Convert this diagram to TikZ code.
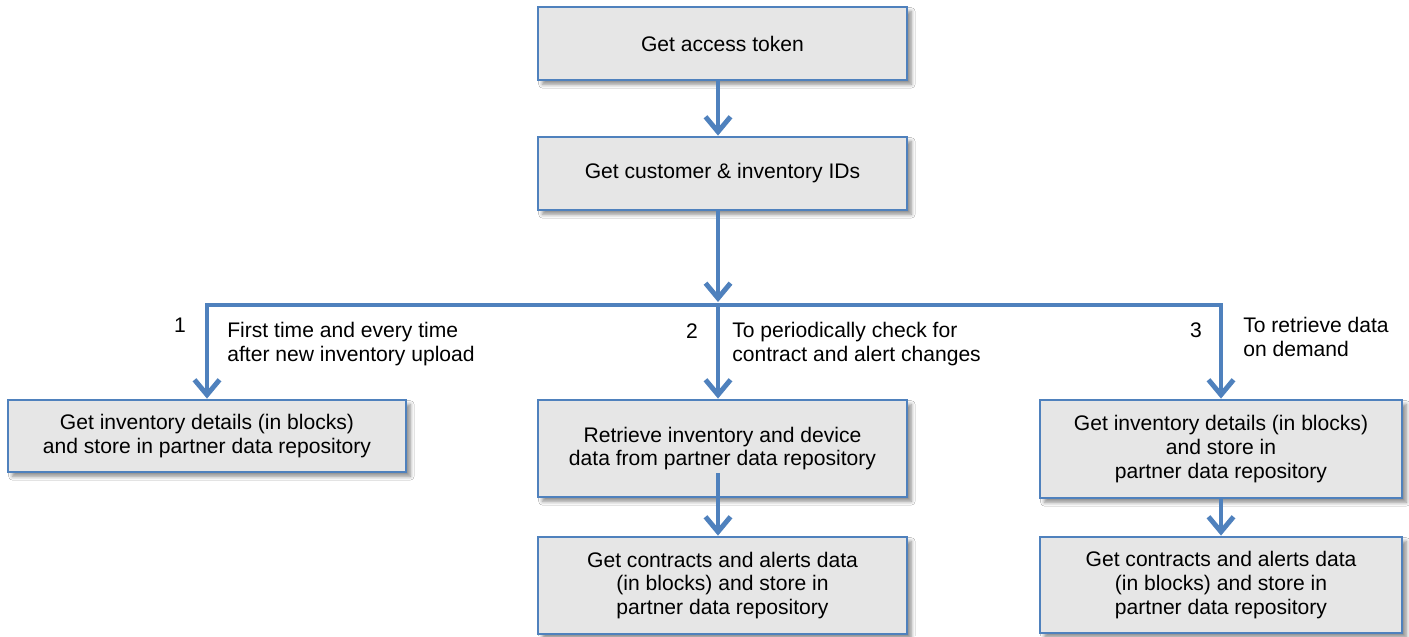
\documentclass[tikz,border=0pt]{standalone}
\usepackage{fontspec}
\setmainfont{Liberation Sans}
\usetikzlibrary{arrows.meta,shadows.blur}
\definecolor{flowblue}{RGB}{79,129,189}
\definecolor{boxfill}{RGB}{230,230,230}
\begin{document}
\begin{tikzpicture}[x=0.02cm,y=-0.02cm,
  txt/.style={font=\fontsize{12}{13.6}\selectfont},
  box/.style={txt, draw=flowblue, line width=1.6pt, fill=boxfill, align=center, inner sep=0pt,
    blur shadow={shadow xshift=2.5pt, shadow yshift=-2.5pt, shadow blur steps=6, shadow opacity=45}},
  wire/.style={draw=flowblue, line width=2.8pt},
  flow/.style={wire, -{Straight Barb[length=0.3cm,width=0.5cm]}},
  lbl/.style={txt, align=left, inner sep=0pt}]
\useasboundingbox[fill=white] (0,0) rectangle (1409,636);

% process steps
\node[box, minimum width=7.38cm, minimum height=1.46cm] (tok) at (722.5,43.5) {Get access token};
\node[box, minimum width=7.38cm, minimum height=1.46cm] (ids) at (722.5,173.5) {Get customer \& inventory IDs};
\node[box, minimum width=7.96cm, minimum height=1.44cm] (inv1) at (207,436)
  {Get inventory details (in blocks)\\and store in partner data repository};
\node[box, minimum width=7.38cm, minimum height=1.94cm] (chk) at (722.5,448.5)
  {Retrieve inventory and device\\data from partner data repository};
\node[box, minimum width=7.38cm, minimum height=1.94cm] (ctr2) at (722.5,585.5)
  {Get contracts and alerts data\\(in blocks) and store in\\partner data repository};
\node[box, minimum width=7.24cm, minimum height=1.96cm] (inv3) at (1221,449)
  {Get inventory details (in blocks)\\and store in\\partner data repository};
\node[box, minimum width=7.24cm, minimum height=1.92cm] (ctr3) at (1221,585)
  {Get contracts and alerts data\\(in blocks) and store in\\partner data repository};

% routing points
\coordinate (spine) at (718,0);
\coordinate (hub) at (718,305);
\coordinate (hubtop) at (718,302);
\coordinate (busL) at (207,305);
\coordinate (busR) at (1221,305);
\coordinate (chkout) at (718,473);

% connectors
\draw[flow] (tok.south -| spine) -- (ids.north -| spine);
\draw[flow] (ids.south -| spine) -- (hubtop);
\draw[flow] (hub) -- (busL) -- (inv1.north -| busL);
\draw[flow] (hub) -- (busR) -- (inv3.north -| busR);
\draw[flow] (hub) -- (chk.north -| spine);
\draw[flow] (chkout) -- (ctr2.north -| chkout);
\draw[flow] (inv3.south) -- (ctr3.north);

% branch labels
\node[lbl, anchor=base] (n1) at (180,332) {1};
\node[lbl, anchor=north west] (d1) at (227,321.5) {First time and every time\\after new inventory upload};
\node[lbl, anchor=base] (n2) at (692,338) {2};
\node[lbl, anchor=north west] (d2) at (732,321.5) {To periodically check for\\contract and alert changes};
\node[lbl, anchor=base] (n3) at (1196,337) {3};
\node[lbl, anchor=north west] (d3) at (1243,316.5) {To retrieve data\\on demand};
\end{tikzpicture}
\end{document}
